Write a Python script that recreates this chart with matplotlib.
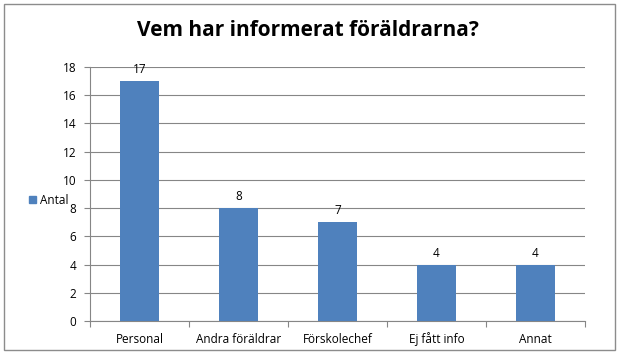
import matplotlib
matplotlib.use('Agg')
import matplotlib.pyplot as plt
from matplotlib.patches import Rectangle, Patch

categories = ['Personal', 'Andra föräldrar', 'Förskolechef', 'Ej fått info', 'Annat']
antal = [17, 8, 7, 4, 4]
yticks = [0, 2, 4, 6, 8, 10, 12, 14, 16, 18]

plt.rcParams['font.family'] = ['Open Sans', 'DejaVu Sans']

fig = plt.figure(figsize=(6.2, 3.56), dpi=100, facecolor='w')
# chart frame
fig.patches.append(Rectangle((4/620, 1 - 350/356), 611/620, 346/356, transform=fig.transFigure,
                             fill=False, edgecolor='#8c8c8c', linewidth=1))

ax = fig.add_axes([90/620, 1 - 321/356, 495/620, 254/356])
x = range(len(categories))
bars = ax.bar(x, antal, width=0.4, color='#4f81bd', zorder=3)
for b, v in zip(bars, antal):
    ax.text(b.get_x() + b.get_width()/2, v + 0.35, str(v), ha='center', va='bottom', fontsize=8.5)

ax.set_xlim(-0.5, len(categories) - 0.5)
ax.set_ylim(0, 18)
ax.set_yticks(yticks)
ax.tick_params(axis='y', labelsize=8.5, length=4, color='#868686', pad=6)
ax.set_xticks([i + 0.5 for i in range(-1, len(categories))], minor=False)
ax.set_xticklabels([])
ax.set_xticks(list(x), minor=True)
ax.set_xticklabels(categories, minor=True, fontsize=8.5, va='baseline')
ax.tick_params(axis='x', which='major', length=4, color='#868686')
ax.tick_params(axis='x', which='minor', length=0, pad=15.5)
ax.yaxis.grid(True, color='#868686', linewidth=0.8, zorder=0)
for s in ['top', 'right']:
    ax.spines[s].set_visible(False)
for s in ['left', 'bottom']:
    ax.spines[s].set_color('#868686')

fig.text(308/620, 1 - 30/356, 'Vem har informerat föräldrarna?', fontsize=15,
         fontweight='bold', ha='center', va='center')

fig.legend(handles=[Patch(color='#4f81bd', label='Antal')], loc='center left',
           bbox_to_anchor=(18/620, 1 - 200/356), frameon=False, fontsize=8.5,
           handlelength=0.6, handleheight=0.6, handletextpad=0.4)

plt.savefig('out.png', dpi=100)
